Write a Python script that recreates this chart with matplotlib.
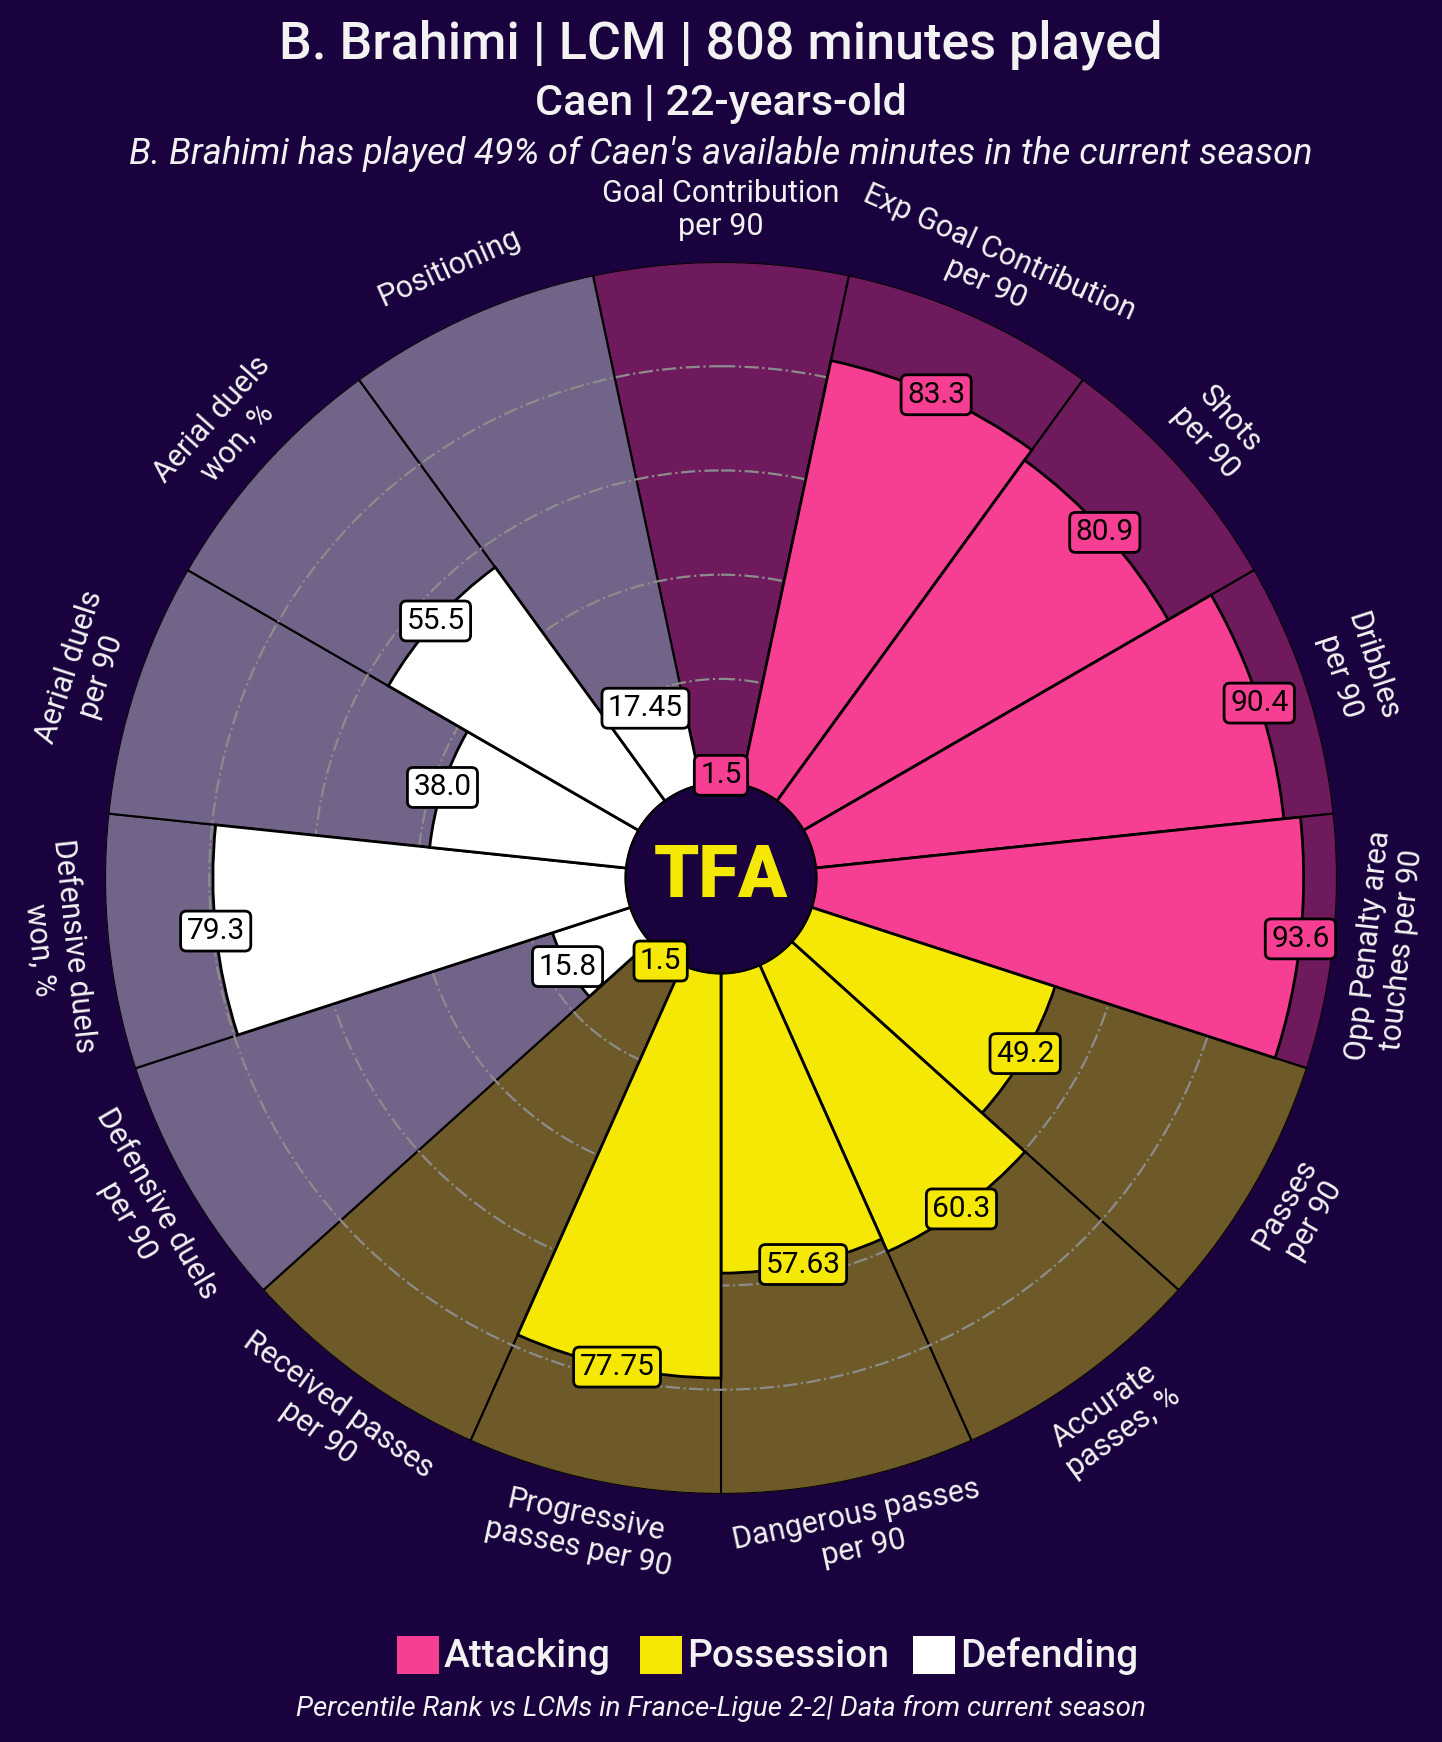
import numpy as np
import matplotlib.pyplot as plt
from matplotlib.patches import Rectangle

plt.rcParams["font.family"] = ["Roboto", "DejaVu Sans"]

params = [
    "Goal Contribution\nper 90", "Exp Goal Contribution\nper 90", "Shots\nper 90",
    "Dribbles\nper 90", "Opp Penalty area\ntouches per 90",
    "Passes\nper 90", "Accurate\npasses, %", "Dangerous passes\nper 90",
    "Progressive\npasses per 90", "Received passes\nper 90",
    "Defensive duels\nper 90", "Defensive duels\nwon, %", "Aerial duels\nper 90",
    "Aerial duels\nwon, %", "Positioning",
]
values = [1.5, 83.3, 80.9, 90.4, 93.6,
          49.2, 60.3, 57.63, 77.75, 1.5,
          15.8, 79.3, 38.0, 55.5, 17.45]
groups = ["Attacking"] * 5 + ["Possession"] * 5 + ["Defending"] * 5

bg = "#19023d"
text_col = "#f2f2f2"
bar_colors = {"Attacking": "#f63e92", "Possession": "#f5e805", "Defending": "#ffffff"}
slice_colors = {"Attacking": "#6f1a5c", "Possession": "#6e5a28", "Defending": "#726388"}

fig = plt.figure(figsize=(14.42, 17.42), dpi=100, facecolor=bg)

ax = fig.add_axes([0.0728, 0.1424, 0.8544, 0.7072], projection="polar")
ax.set_facecolor(bg)
ax.set_theta_zero_location("N")
ax.set_theta_direction(-1)

n = len(params)
width = 2 * np.pi / n
theta = np.arange(n) * width

# background slices
ax.bar(theta, [100] * n, width=width, bottom=0,
       color=[slice_colors[g] for g in groups], edgecolor="black", lw=1.5, zorder=1)
# value bars
ax.bar(theta, values, width=width, bottom=0,
       color=[bar_colors[g] for g in groups], edgecolor="black", lw=2, zorder=3)

ax.set_ylim(0, 100)
ax.set_rorigin(-18.2)
ax.set_rgrids([20, 40, 60, 80])
ax.set_yticklabels([])
ax.set_xticks([])
ax.yaxis.grid(True, color="#8c8c8c", ls="-.", lw=1.6)
ax.set_axisbelow("line")
ax.spines["polar"].set_visible(False)

# center circle
circ = np.linspace(0, 2 * np.pi, 300)
ax.plot(circ, np.zeros_like(circ), color="black", lw=2.5, zorder=5)
ax.text(0.5, 0.5, "TFA", transform=ax.transAxes, ha="center", va="center",
        fontsize=52, fontweight="heavy", color="#f5e805", zorder=6)

# param labels
for th, p in zip(theta, params):
    deg = np.degrees(th)
    rot = 180 - deg if 90 < deg < 270 else -deg
    ax.text(th, 110, p, rotation=rot, rotation_mode="anchor", ha="center", va="center",
            multialignment="center", fontsize=22, color=text_col, zorder=6)

# value labels
for th, v, g in zip(theta, values, groups):
    ax.text(th, v, str(v), ha="center", va="center", fontsize=21.5, color="black", zorder=7,
            bbox=dict(boxstyle="round,pad=0.2", fc=bar_colors[g], ec="black", lw=2))

# titles
fig.text(0.5, 1 - 45 / 1742, "B. Brahimi | LCM | 808 minutes played", ha="center", va="center",
         fontsize=37.5, fontweight="medium", color=text_col)
fig.text(0.5, 1 - 104 / 1742, "Caen | 22-years-old", ha="center", va="center",
         fontsize=31, fontweight="medium", color=text_col)
fig.text(0.5, 1 - 154 / 1742,
         "B. Brahimi has played 49% of Caen's available minutes in the current season",
         ha="center", va="center", fontsize=26, style="italic", color=text_col)

# legend
legend_x = [397, 640, 913]
for lx, g in zip(legend_x, ["Attacking", "Possession", "Defending"]):
    fig.patches.append(Rectangle((lx / 1442, 1 - 1674 / 1742), 42 / 1442, 38 / 1742,
                                 transform=fig.transFigure, fc=bar_colors[g], ec="none"))
    fig.text((lx + 47) / 1442, 1 - 1656 / 1742, g, ha="left", va="center",
             fontsize=28, fontweight="medium", color=text_col)

fig.text(0.5, 1 - 1708 / 1742,
         "Percentile Rank vs LCMs in France-Ligue 2-2| Data from current season",
         ha="center", va="center", fontsize=20, style="italic", color=text_col)

fig.savefig("out.png", dpi=100, facecolor=bg)
